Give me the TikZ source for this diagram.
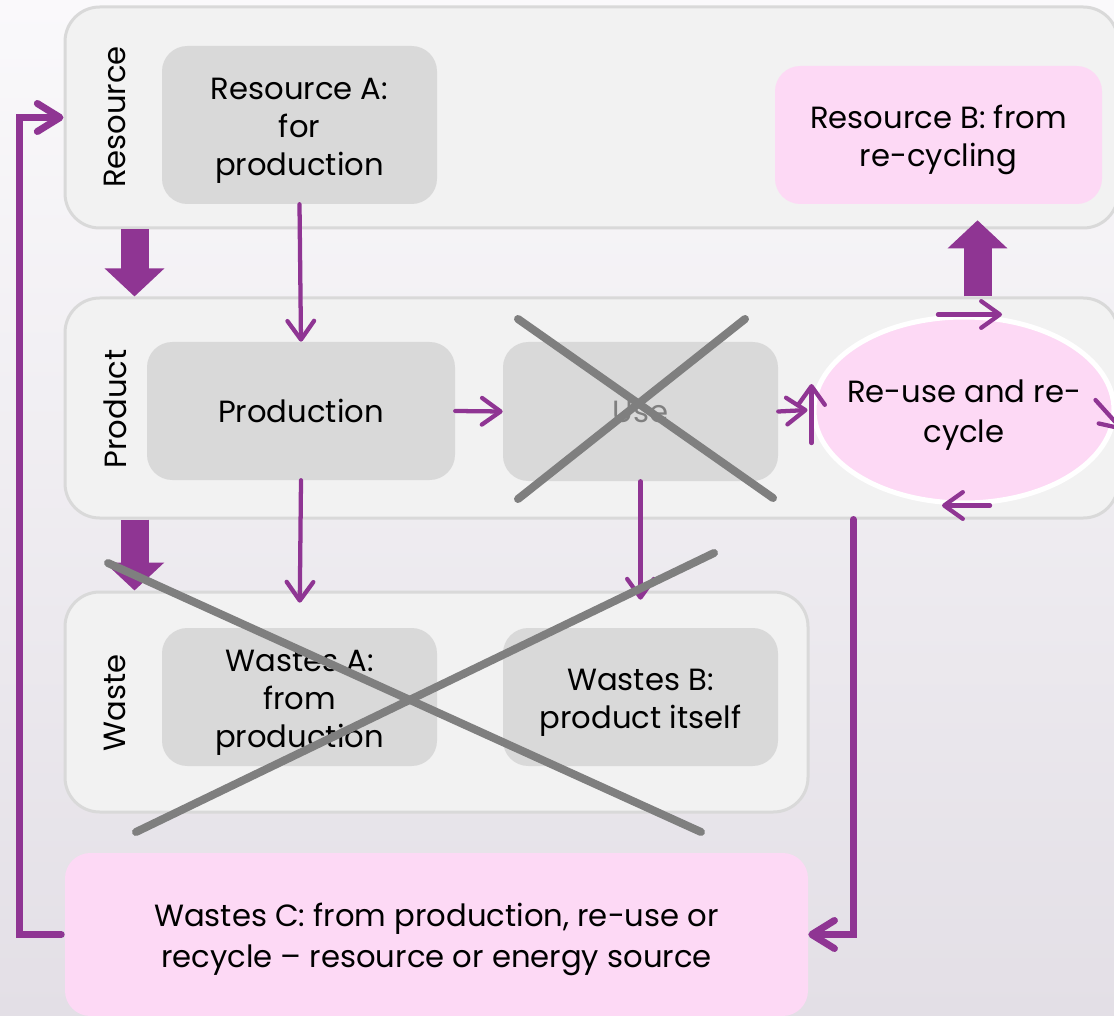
\documentclass[tikz,border=0pt]{standalone}
\usepackage{fontspec}
\setmainfont{Poppins}
\usetikzlibrary{arrows.meta,shapes.geometric}
\definecolor{flowPurple}{HTML}{8F3593}
\definecolor{boxGrey}{HTML}{D9D9D9}
\definecolor{panelFill}{HTML}{F2F2F2}
\definecolor{panelEdge}{HTML}{D9D9D9}
\definecolor{boxPink}{HTML}{FDD9F5}
\definecolor{crossGrey}{HTML}{7F7F7F}
\definecolor{bgTop}{HTML}{FAF9FB}
\definecolor{bgBottom}{HTML}{E3DFE6}
\newcommand{\topgap}{\rule{0pt}{25pt}}
\tikzset{
  panel/.style={draw=panelEdge,line width=2.25pt,fill=panelFill,rounded corners=26pt},
  greybox/.style={fill=boxGrey,rounded corners=19pt,align=center,inner sep=0pt},
  pinkbox/.style={fill=boxPink,rounded corners=19pt,align=center,inner sep=0pt},
  rowlabel/.style={rotate=90,inner sep=0pt},
  thinarr/.style={draw=flowPurple,line width=3.2pt,line cap=round,-{Straight Barb[length=14pt,width=20pt,round]}},
  looparr/.style={draw=flowPurple,line width=5.25pt,line cap=round,-{Straight Barb[length=17pt,width=21pt,round]}},
  fatarr/.style={draw=flowPurple,line width=21pt,-{Triangle[length=21pt,width=43.5pt]}},
  crossline/.style={draw=crossGrey,line width=6pt,line cap=round},
}
\begin{document}
\begin{tikzpicture}[x=0.75pt,y=-0.75pt,font=\fontsize{23}{28.5}\selectfont]
\useasboundingbox (0,0) rectangle (1114,1016);
\shade[top color=bgTop,bottom color=bgBottom] (0,0) rectangle (1114,1016);
\node[panel,minimum width=789.75pt,minimum height=165.75pt] (resPanel) at (591.5,117.5) {};
\node[panel,minimum width=789.75pt,minimum height=165pt] (prodPanel) at (591.5,408) {};
\node[panel,minimum width=557.25pt,minimum height=165pt] (wastePanel) at (436.5,702) {};
\node[rowlabel] (resLbl) at (115,117) {Resource};
\node[rowlabel] (prodLbl) at (115,409) {Product};
\node[rowlabel] (wasteLbl) at (115,703) {Waste};
\node[greybox,minimum width=206.25pt,minimum height=118.5pt] (resA) at (299.5,125) {\topgap Resource A:\\for\\production};
\node[pinkbox,minimum width=245.25pt,minimum height=103.5pt] (resB) at (938.5,135) {\topgap Resource B: from\\re-cycling};
\node[greybox,minimum width=231pt,minimum height=103.5pt] (prod) at (301,411) {Production};
\node[greybox,minimum width=206.25pt,minimum height=104.25pt,text=crossGrey] (use) at (640.5,411.5) {Use};
\node[ellipse,draw=white,line width=3.75pt,fill=boxPink,inner xsep=-14pt,inner ysep=0pt,align=center,
  minimum width=225pt,minimum height=139.5pt,font=\fontsize{23}{30}\selectfont] (reuse) at (964,410) {\topgap Re-use and re-\\cycle};
\node[greybox,minimum width=206.25pt,minimum height=103.5pt] (wasA) at (299.5,697) {\topgap Wastes A:\\from\\production};
\node[greybox,minimum width=206.25pt,minimum height=103.5pt] (wasB) at (640.5,697) {\topgap Wastes B:\\product itself};
\node[pinkbox,minimum width=557.25pt,minimum height=122.25pt,font=\fontsize{23}{30.75}\selectfont] (wastesC) at (436.5,934.5)
  {\topgap Wastes C: from production, re-use or\\recycle – resource or energy source};
\draw[thinarr] (resA.south) -- (prod.north);
\draw[thinarr] (prod.east) -- (use.west);
\draw[thinarr] (use.east) -- ([xshift=-3pt]reuse.west);
\draw[thinarr] ([yshift=-24.75pt]reuse.west) -- ([yshift=19.5pt]reuse.west);
\draw[thinarr] ([xshift=-19.5pt]reuse.north) -- ([xshift=28.5pt]reuse.north);
\draw[thinarr] ([xshift=19.5pt]reuse.south) -- ([xshift=-16.5pt]reuse.south);
\draw[thinarr] ([xshift=-15.75pt,yshift=7.5pt]reuse.east) -- ([xshift=4.5pt,yshift=-15pt]reuse.east);
\draw[thinarr,shorten >=18.75pt] (prod.south) -- (wasA.north);
\draw[thinarr,shorten >=21pt] (use.south) -- (wasB.north);
\draw[fatarr] ([xshift=53.25pt]resPanel.south west) -- ([xshift=53.25pt]prodPanel.north west);
\draw[fatarr] ([xshift=53.25pt]prodPanel.south west) -- ([xshift=53.25pt]wastePanel.north west);
\coordinate (upTip) at ([xshift=29.25pt,yshift=-12pt]resB.south);
\draw[fatarr] (upTip |- prodPanel.north) -- (upTip);
\draw[looparr,shorten <=2.625pt] (wastesC.west) -- ++(-45,0) |- (resPanel.west);
\coordinate (loopR) at ([xshift=33.75pt]wastesC.east);
\draw[looparr] (loopR |- prodPanel.south) |- (wastesC.east);
\draw[crossline] (518,319) -- (773,498);
\draw[crossline] (518,499) -- (745,319);
\draw[crossline] (108,563) -- (701,832);
\draw[crossline] (136,832) -- (714,553);
\end{tikzpicture}
\end{document}
